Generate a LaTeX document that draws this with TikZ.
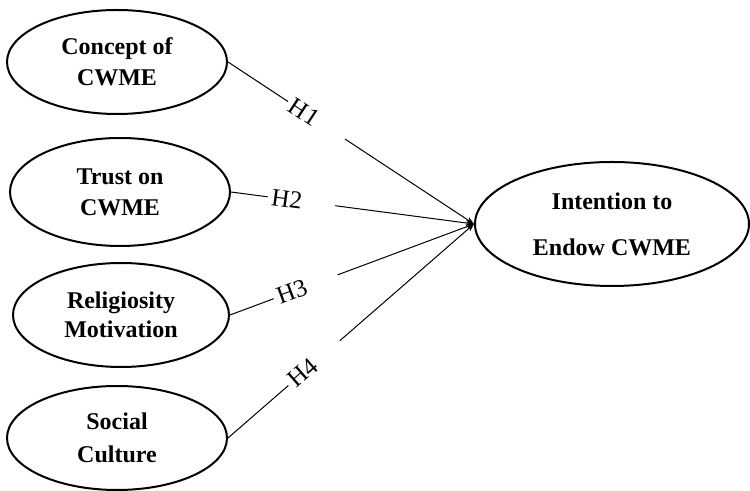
\documentclass[tikz,border=0pt]{standalone}
\usepackage{fontspec}
\setmainfont{Liberation Serif}
\usetikzlibrary{shapes.geometric,arrows.meta}

\begin{document}
\begin{tikzpicture}[x=0.5pt,y=-0.5pt,
  construct/.style={draw,ellipse,line width=1pt,minimum width=110pt,minimum height=52pt,
    inner sep=0pt,align=center,font=\fontsize{12}{14.4}\selectfont\bfseries},
  link/.style={-{Stealth[length=4pt,width=3pt]},line width=0.5pt},
  hyp/.style={sloped,fill=white,inner xsep=2pt,inner ysep=1pt,text width=30pt,align=left,
    font=\fontsize{12.5}{14.4}\selectfont}]
\useasboundingbox (0,0) rectangle (750,491);
% independent constructs
\node[construct] (concept) at (117,62) {Concept of\\[1pt]CWME};
\node[construct,minimum height=54pt] (trust) at (120,192) {Trust on\\[1pt]CWME};
\node[construct,minimum width=108pt] (relig) at (121,315) {Religiosity\\[0pt]Motivation};
\node[construct] (social) at (117,438) {Social\\[2pt]Culture};
% dependent construct
\node[construct,minimum width=137pt,minimum height=62pt] (intent) at (612,224) {Intention to\\[8.5pt]Endow CWME};
% hypotheses
\draw[link] (concept.east) -- node[hyp,pos=0.36] {H1} (intent.west);
\draw[link] (trust.east) -- node[hyp,pos=0.29] {H2} (intent.west);
\draw[link] (relig.east) -- node[hyp,pos=0.31] {H3} (intent.west);
\draw[link] (social.east) -- node[hyp,pos=0.35] {H4} (intent.west);
\end{tikzpicture}
\end{document}
